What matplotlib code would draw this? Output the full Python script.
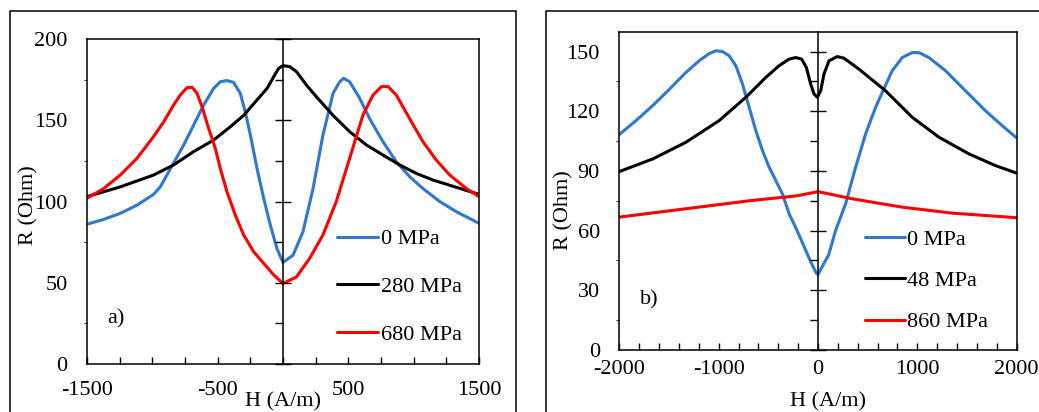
import numpy as np
import matplotlib
matplotlib.use("Agg")
import matplotlib.pyplot as plt
from matplotlib.patches import Rectangle
from matplotlib.ticker import MultipleLocator

plt.rcParams["font.family"] = ["Liberation Serif", "DejaVu Serif"]
plt.rcParams["axes.unicode_minus"] = False

# ---- panel a) ----
a_h_0 = [-1500, -1372, -1245, -1117, -990, -939, -849, -760, -684, -607, -531, -480, -429, -378, -327, -288,
         -250, -199, -148, -97, -46, 0, 77, 153, 230, 306, 383, 434, 464, 510, 587, 663, 765, 867, 969,
         1071, 1199, 1327, 1500]
a_r_0 = [86, 89, 92.7, 97.8, 104.4, 109, 122, 134.8, 147, 159.4, 169.6, 173.7, 174.4, 173.3, 166.6, 155,
         141, 120.4, 102, 85.5, 71, 62.5, 67, 81.4, 108, 141, 166.6, 173.7, 175.8, 173.7, 163.5, 151, 136.8,
         124.5, 115.3, 108, 100, 93.7, 86.6]

a_h_280 = [-1500, -1245, -990, -837, -684, -531, -403, -301, -199, -122, -71, -33, 0, 51, 102, 179, 255,
           383, 510, 638, 765, 893, 1020, 1148, 1276, 1500]
a_r_280 = [103, 109, 116.3, 122.5, 130.7, 137.8, 146, 153, 162.5, 169.6, 176.8, 182, 183.6, 183, 180,
           171.7, 164.5, 153, 143, 134.8, 128.6, 122.5, 117.3, 113.2, 110, 104.4]

a_h_680 = [-1500, -1372, -1245, -1117, -990, -913, -837, -786, -735, -696, -658, -620, -569, -518, -480,
           -429, -365, -301, -224, -148, -71, 0, 102, 204, 306, 408, 510, 612, 689, 753, 804, 867, 969,
           1071, 1173, 1276, 1403, 1500]
a_r_680 = [102, 108, 116.3, 126.6, 140, 149, 159.4, 165.5, 170, 170.3, 166.6, 158.4, 145, 132.7, 120.4,
           106, 91.7, 79.4, 69, 62, 54.8, 49.6, 53.5, 65, 79.4, 100, 126.6, 153.2, 165.5, 170.7, 170.7,
           165.5, 151, 136.8, 125.5, 116.3, 108, 103]

a_xticklabels = ["-1500", "-500", "500", "1500"]

# ---- panel b) ----
b_h_0 = [-2000, -1832, -1665, -1497, -1330, -1196, -1095, -1028, -961, -894, -827, -760, -693, -626, -559,
         -492, -425, -358, -291, -224, -175, -74, -17, 0, 107, 178, 278, 379, 479, 580, 647, 747, 848, 948,
         1015, 1116, 1283, 1484, 1685, 1853, 2000]
b_r_0 = [108.3, 115.3, 122.8, 131, 139.5, 145.4, 149, 150.4, 150, 147.9, 142.9, 133.7, 122, 110.3, 100.3,
         91.9, 85.2, 78.5, 68.5, 61.5, 56, 44.4, 38.6, 38, 47.8, 60.2, 73.5, 91.9, 108.6, 122, 129.5, 140.4,
         147, 149.5, 149.5, 147, 140.4, 130.3, 120.3, 112.8, 106.6]

b_h_48 = [-2000, -1665, -1330, -995, -727, -526, -392, -291, -224, -164, -117, -74, -40, -7, 27, 60, 111,
          194, 261, 412, 680, 948, 1216, 1518, 1786, 2000]
b_r_48 = [89.7, 96, 104.4, 115.3, 127, 137, 142.9, 146.2, 147, 146.2, 142, 133.7, 128.7, 127, 130.3, 138.7,
          145.4, 147.5, 146.7, 141.2, 130.3, 117, 107, 98.6, 92.7, 88.9]

b_h_860 = [-2000, -1330, -660, -224, 0, 345, 848, 1350, 2000]
b_r_860 = [66.8, 71, 75.2, 77.4, 79.6, 76, 71.8, 68.8, 66.5]

b_xticklabels = ["-2000", "-1000", "0", "1000", "2000"]

BLUE = "#2F78CE"
RED = "#FF0000"
FS = 16

fig = plt.figure(figsize=(10.39, 4.12), dpi=100)
W, H = 1039, 412


def box(px0, px1, py):
    # outer frame around each panel (pixel coords -> figure fraction)
    r = Rectangle((px0 / W, -0.1), (px1 - px0) / W, 0.1 + (H - py) / H, transform=fig.transFigure,
                  fill=False, ec="black", lw=1.1, clip_on=False)
    fig.patches.append(r)


def panel(rect, xlim, ylim, xstep, ymaj, ymin_, labels_at, labels, series, leg, tag, tagpos,
          ylab_pos, xlab_pos, xpad):
    ax = fig.add_axes(rect)
    for h, r, c, lab in series:
        ax.plot(h, r, color=c, lw=2.2, label=lab, solid_capstyle="round", solid_joinstyle="round")
    ax.set_xlim(*xlim)
    ax.set_ylim(*ylim)
    ticks = np.arange(xlim[0], xlim[1] + 1, xstep)
    ax.set_xticks(ticks)
    ax.set_xticklabels([labels[labels_at.index(t)] if t in labels_at else "" for t in ticks])
    ax.tick_params(axis="x", direction="in", length=5, width=1, labelsize=FS, pad=xpad)
    yt = np.arange(0, ylim[1] + 1, ymaj)
    ax.set_yticks(yt)
    ax.tick_params(axis="y", length=0, labelsize=FS, pad=14)
    for s in ax.spines.values():
        s.set_linewidth(1.1)
    ax.set_ylabel("R (Ohm)", fontsize=FS)
    ax.yaxis.set_label_coords(*ylab_pos)
    ax.yaxis.label.set_va("center")
    ax.set_xlabel("H (A/m)", fontsize=FS)
    ax.xaxis.set_label_coords(*xlab_pos)
    ax.xaxis.label.set_va("center")
    ax.text(tagpos[0], tagpos[1], tag, transform=ax.transAxes, fontsize=FS, ha="center", va="center")
    ax.legend(loc="upper left", bbox_to_anchor=leg[0], frameon=False, fontsize=FS, borderpad=0,
              borderaxespad=0, handlelength=leg[1], handletextpad=0.1, labelspacing=leg[2])

    # central vertical axis at H = 0
    ax2 = fig.add_axes(rect, sharey=ax, sharex=ax)
    ax2.patch.set_visible(False)
    for k in ("top", "right", "bottom"):
        ax2.spines[k].set_visible(False)
    ax2.spines["left"].set_position(("data", 0))
    ax2.spines["left"].set_linewidth(1.1)
    ax2.yaxis.set_major_locator(MultipleLocator(ymaj))
    ax2.yaxis.set_minor_locator(MultipleLocator(ymin_))
    ax2.tick_params(axis="y", which="major", direction="inout", length=12, width=1, labelleft=False)
    ax2.tick_params(axis="y", which="minor", direction="out", length=6, width=1, labelleft=False)
    ax2.tick_params(axis="x", bottom=False, labelbottom=False)
    ax2.set_ylim(*ylim)
    return ax


box(10, 516, 11.5)
box(546, 1080, 11.5)

panel([87 / W, 1 - 364 / H, 392 / W, 325 / H], (-1500, 1500), (0, 200), 250, 50, 25,
      [-1500, -500, 500, 1500], a_xticklabels,
      [(a_h_0, a_r_0, BLUE, "0 MPa"), (a_h_280, a_r_280, "black", "280 MPa"),
       (a_h_680, a_r_680, RED, "680 MPa")],
      ((0.6385, 0.416), 1.85, 1.22), "a)", (0.073, 0.138), (-0.148, 0.489), (0.50, -0.118), 12.5)

panel([619.3 / W, 1 - 350 / H, 397.4 / W, 318.3 / H], (-2000, 2000), (0, 160), 200, 30, 15,
      [-2000, -1000, 0, 1000, 2000], b_xticklabels,
      [(b_h_0, b_r_0, BLUE, "0 MPa"), (b_h_48, b_r_48, "black", "48 MPa"),
       (b_h_860, b_r_860, RED, "860 MPa")],
      ((0.618, 0.3786), 1.8, 0.93), "b)", (0.076, 0.159), (-0.139, 0.441), (0.525, -0.163), 7)

fig.savefig("out.png", dpi=100)
